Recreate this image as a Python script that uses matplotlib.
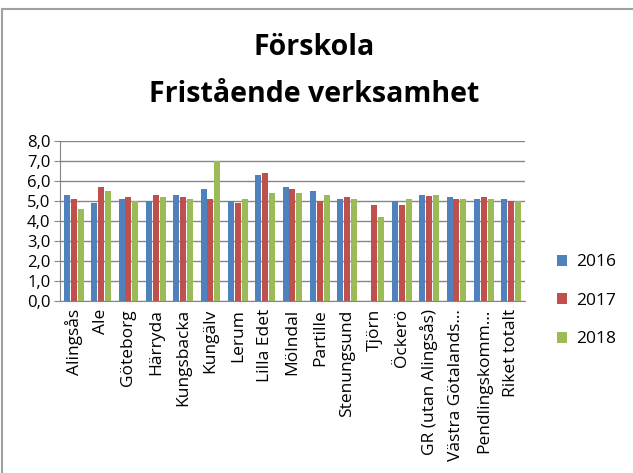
import numpy as np
import matplotlib
matplotlib.use('Agg')
import matplotlib.pyplot as plt
from matplotlib.patches import Rectangle

kommuner = ['Alingsås', 'Ale', 'Göteborg', 'Härryda', 'Kungsbacka', 'Kungälv', 'Lerum',
            'Lilla Edet', 'Mölndal', 'Partille', 'Stenungsund', 'Tjörn', 'Öckerö',
            'GR (utan Alingsås)', 'Västra Götalands…', 'Pendlingskomm…', 'Riket totalt']
v2016 = [5.3, 4.9, 5.1, 5.0, 5.3, 5.6, 5.0, 6.3, 5.7, 5.5, 5.1, np.nan, 5.0, 5.3, 5.2, 5.1, 5.1]
v2017 = [5.1, 5.7, 5.2, 5.3, 5.2, 5.1, 4.9, 6.4, 5.6, 5.0, 5.2, 4.8, 4.8, 5.25, 5.1, 5.2, 5.0]
v2018 = [4.6, 5.5, 5.0, 5.2, 5.1, 7.0, 5.1, 5.4, 5.4, 5.3, 5.1, 4.2, 5.1, 5.3, 5.1, 5.1, 5.0]
serier = ['2016', '2017', '2018']
farger = ['#4F81BD', '#C0504D', '#9BBB59']

plt.rcParams['font.family'] = ['Open Sans', 'DejaVu Sans']

fig = plt.figure(figsize=(6.33, 4.73), dpi=100)
# ram runt diagrammet (bara vänster/överkant syns)
fig.patches.append(Rectangle((0.003, -0.05), 1.1, 1.031, transform=fig.transFigure,
                             fill=False, edgecolor='#A0A0A0', linewidth=1.5))
ax = fig.add_axes([0.095, 0.364, 0.734, 0.338])

x = np.arange(len(kommuner))
bw = 0.22
for i, (vals, namn, f) in enumerate(zip([v2016, v2017, v2018], serier, farger)):
    ax.bar(x + (i - 1) * 0.25, vals, bw, color=f, label=namn, zorder=3)

ax.set_xlim(-0.5, len(kommuner) - 0.5)
ax.set_ylim(0, 8)
ax.set_yticks(np.arange(0, 9, 1))
ax.yaxis.set_major_formatter(plt.FuncFormatter(lambda v, p: ('%.1f' % v).replace('.', ',')))
ax.tick_params(axis='y', labelsize=12, length=4, color='#868686', pad=3)
ax.set_xticks(x)
ax.set_xticklabels(kommuner, rotation=90, fontsize=12.5)
ax.tick_params(axis='x', length=0, pad=6)
ax.grid(axis='y', color='#868686', linewidth=1, zorder=0)
for s in ['top', 'right']:
    ax.spines[s].set_visible(False)
for s in ['left', 'bottom']:
    ax.spines[s].set_color('#868686')

fig.text(0.497, 0.899, 'Förskola', ha='center', va='center', fontsize=20.5, fontweight='bold')
fig.text(0.497, 0.800, 'Fristående verksamhet', ha='center', va='center', fontsize=20.5, fontweight='bold')

ax.legend(loc='center left', bbox_to_anchor=(1.035, 0.0), frameon=False, fontsize=12.5,
          handlelength=0.6, handleheight=0.6, handletextpad=0.5, labelspacing=1.3)

plt.savefig('out.png', dpi=100)
